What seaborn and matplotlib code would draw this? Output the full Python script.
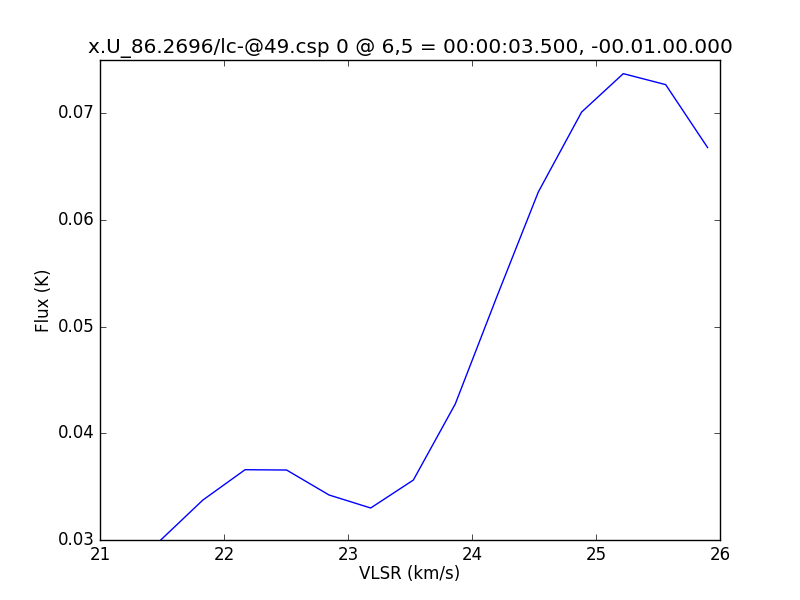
import matplotlib
matplotlib.use("Agg")
import matplotlib.pyplot as plt
import seaborn as sns
import pandas as pd

vlsr = [21.49, 21.83, 22.17, 22.505, 22.847, 23.183, 23.527, 23.865, 24.20, 24.535, 24.884, 25.22, 25.562, 25.90]
flux = [0.0300, 0.03375, 0.03659, 0.03656, 0.03422, 0.03300, 0.03562, 0.04275, 0.0528, 0.06263, 0.07012, 0.07372, 0.07269, 0.06679]

plt.style.use("classic")
df = pd.DataFrame({"VLSR": vlsr, "Flux": flux})
fig = plt.figure(figsize=(8, 6), dpi=100, facecolor="white")
ax = fig.add_subplot(111)
sns.lineplot(data=df, x="VLSR", y="Flux", color="b", linewidth=1, ax=ax, sort=False)
ax.set_xlim(21, 26)
ax.set_ylim(0.03, 0.075)
ax.set_xticks([21, 22, 23, 24, 25, 26])
ax.set_yticks([0.03, 0.04, 0.05, 0.06, 0.07])
ax.set_yticklabels(["0.03", "0.04", "0.05", "0.06", "0.07"])
ax.set_xlabel("VLSR (km/s)", labelpad=1)
ax.set_ylabel("Flux (K)", labelpad=3)
ax.set_title("x.U_86.2696/lc-@49.csp 0 @ 6,5 = 00:00:03.500, -00.01.00.000")
fig.savefig("out.png", dpi=100, facecolor="white")
